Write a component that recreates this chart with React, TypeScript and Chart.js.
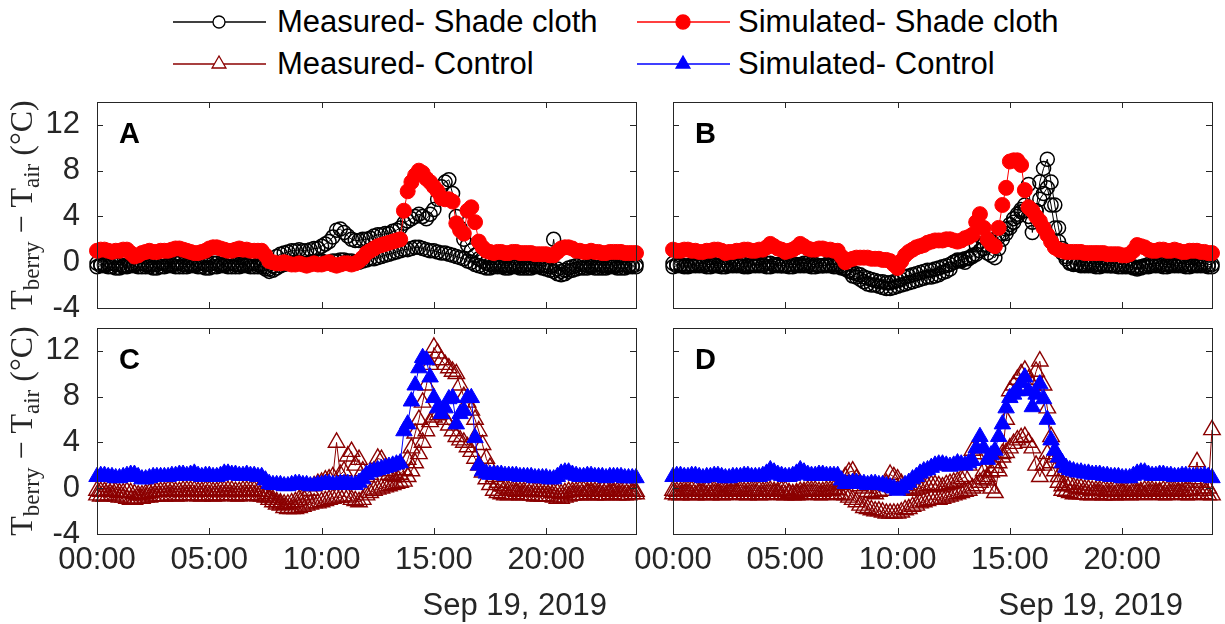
import React, { useEffect, useRef } from "react";
import { Chart, registerables } from "chart.js";

Chart.register(...registerables);

// ---------------- DATA (10-minute samples, 00:00 .. 24:00) ----------------
const TIMES = [
  "00:00","00:10","00:20","00:30","00:40","00:50",
  "01:00","01:10","01:20","01:30","01:40","01:50",
  "02:00","02:10","02:20","02:30","02:40","02:50",
  "03:00","03:10","03:20","03:30","03:40","03:50",
  "04:00","04:10","04:20","04:30","04:40","04:50",
  "05:00","05:10","05:20","05:30","05:40","05:50",
  "06:00","06:10","06:20","06:30","06:40","06:50",
  "07:00","07:10","07:20","07:30","07:40","07:50",
  "08:00","08:10","08:20","08:30","08:40","08:50",
  "09:00","09:10","09:20","09:30","09:40","09:50",
  "10:00","10:10","10:20","10:30","10:40","10:50",
  "11:00","11:10","11:20","11:30","11:40","11:50",
  "12:00","12:10","12:20","12:30","12:40","12:50",
  "13:00","13:10","13:20","13:30","13:40","13:50",
  "14:00","14:10","14:20","14:30","14:40","14:50",
  "15:00","15:10","15:20","15:30","15:40","15:50",
  "16:00","16:10","16:20","16:30","16:40","16:50",
  "17:00","17:10","17:20","17:30","17:40","17:50",
  "18:00","18:10","18:20","18:30","18:40","18:50",
  "19:00","19:10","19:20","19:30","19:40","19:50",
  "20:00","20:10","20:20","20:30","20:40","20:50",
  "21:00","21:10","21:20","21:30","21:40","21:50",
  "22:00","22:10","22:20","22:30","22:40","22:50",
  "23:00","23:10","23:20","23:30","23:40","23:50",
  "24:00",
];

const X_TICKS = [0, 5, 10, 15, 20];
const X_TICK_LABELS = ["00:00", "05:00", "10:00", "15:00", "20:00"];
const Y_TICKS = [-4, 0, 4, 8, 12];
const Y_TICK_LABELS = ["-4", "0", "4", "8", "12"];
const DATE_LABEL = "Sep 19, 2019";
const PANEL_LETTERS = ["A", "B", "C", "D"];

// Panel A
const simA = [
  1.0, 1.1, 1.1, 1.0, 0.9, 1.0,
  1.0, 1.1, 1.1, 0.8, 0.5, 0.6,
  0.8, 0.9, 1.0, 0.9, 0.9, 1.0,
  1.0, 1.0, 1.1, 1.2, 1.2, 1.1,
  1.0, 0.9, 0.8, 0.8, 0.9, 1.0,
  1.2, 1.3, 1.3, 1.2, 1.1, 1.0,
  1.0, 1.1, 1.2, 1.1, 1.1, 1.0,
  1.0, 1.0, 1.0, 0.6, 0.1, 0.0,
  -0.1, -0.1, 0.0, -0.1, -0.2, -0.2,
  -0.1, -0.2, -0.3, -0.2, -0.1, -0.2,
  -0.2, -0.1, 0.0, -0.2, -0.3, -0.2,
  -0.1, -0.1, -0.2, -0.1, 0.1, 0.4,
  0.8, 1.0, 1.2, 1.4, 1.5, 1.6,
  1.7, 1.8, 1.9, 2.0, 4.5, 6.2,
  7.0, 7.6, 8.0, 7.8, 7.3, 7.0,
  6.6, 6.2, 5.6, 5.5, 5.5, 5.3,
  3.4, 2.8, 2.5, 4.5, 4.8, 3.5,
  1.8, 1.3, 1.0, 0.9, 0.8, 0.9,
  0.9, 0.8, 0.8, 0.9, 0.9, 0.8,
  0.8, 0.8, 0.8, 0.7, 0.7, 0.7,
  0.7, 0.6, 0.6, 0.9, 1.2, 1.3,
  1.3, 1.2, 1.0, 1.0, 0.9, 0.9,
  1.0, 0.9, 0.9, 0.8, 0.8, 0.9,
  0.9, 0.9, 0.9, 0.8, 0.8, 0.8,
  0.8,
];
const measA1 = [
  -0.1, -0.2, -0.2, -0.1, -0.1, -0.2,
  -0.2, -0.3, -0.3, -0.2, -0.2, -0.1,
  -0.1, -0.2, -0.2, -0.2, -0.2, -0.1,
  -0.1, -0.2, -0.2, -0.1, -0.1, -0.2,
  -0.2, -0.2, -0.2, -0.1, -0.1, -0.2,
  -0.2, -0.1, -0.1, -0.2, -0.2, -0.1,
  -0.1, -0.2, -0.2, -0.2, -0.2, -0.1,
  -0.1, -0.2, -0.2, -0.4, -0.6, -0.3,
  0.5, 0.7, 0.8, 0.9, 1.0, 1.0,
  1.1, 1.0, 1.0, 1.1, 1.2, 1.2,
  1.4, 1.6, 1.8, 2.2, 2.8, 2.9,
  2.6, 2.3, 2.0, 1.9, 1.9, 2.0,
  2.0, 2.1, 2.3, 2.4, 2.4, 2.5,
  2.5, 2.7, 2.8, 3.0, 3.4, 3.6,
  3.8, 4.0, 4.2, 4.0, 3.8, 4.2,
  4.6, 5.5, 6.6, 7.0, 7.2, 6.0,
  4.0, 3.0, 2.0, 1.5, 1.0, 0.6,
  0.3, 0.1, -0.1, -0.2, -0.2, -0.2,
  -0.2, -0.3, -0.3, -0.2, -0.2, -0.3,
  -0.3, -0.2, -0.2, -0.3, -0.3, -0.3,
  -0.3, -0.4, 2.0, -0.6, -0.8, -0.7,
  -0.5, -0.4, -0.3, -0.2, -0.2, -0.3,
  -0.3, -0.2, -0.2, -0.3, -0.3, -0.2,
  -0.3, -0.3, -0.2, -0.2, -0.3, -0.3,
  -0.2,
];
const measA2 = [
  -0.4, -0.3, -0.3, -0.4, -0.4, -0.5,
  -0.5, -0.4, -0.4, -0.3, -0.3, -0.4,
  -0.4, -0.4, -0.4, -0.5, -0.5, -0.4,
  -0.4, -0.3, -0.3, -0.4, -0.4, -0.4,
  -0.4, -0.3, -0.3, -0.4, -0.4, -0.5,
  -0.5, -0.4, -0.4, -0.3, -0.3, -0.4,
  -0.4, -0.4, -0.4, -0.3, -0.3, -0.4,
  -0.4, -0.4, -0.4, -0.6, -0.8, -0.7,
  -0.5, -0.3, -0.2, -0.1, -0.1, 0.0,
  0.0, -0.1, -0.1, 0.0, 0.0, 0.1,
  0.1, 0.0, 0.0, 0.1, 0.1, 0.2,
  0.2, 0.1, 0.1, 0.0, 0.0, 0.1,
  0.2, 0.3, 0.3, 0.4, 0.5, 0.6,
  0.7, 0.8, 0.9, 1.0, 1.1, 1.1,
  1.2, 1.3, 1.3, 1.2, 1.1, 1.0,
  1.0, 0.9, 0.8, 0.8, 0.7, 0.6,
  0.5, 0.4, 0.3, 0.1, 0.0, -0.2,
  -0.3, -0.4, -0.5, -0.5, -0.4, -0.4,
  -0.4, -0.5, -0.5, -0.4, -0.4, -0.5,
  -0.5, -0.5, -0.5, -0.4, -0.4, -0.5,
  -0.6, -0.7, -0.8, -1.0, -1.1, -1.0,
  -0.8, -0.7, -0.6, -0.5, -0.5, -0.5,
  -0.4, -0.5, -0.5, -0.5, -0.5, -0.4,
  -0.4, -0.5, -0.5, -0.5, -0.4, -0.4,
  -0.4,
];

// Panel B
const simB = [
  1.1, 1.0, 1.0, 1.1, 1.1, 1.0,
  1.0, 0.9, 0.9, 1.0, 1.0, 1.1,
  1.1, 1.0, 0.8, 0.9, 0.9, 1.0,
  1.0, 1.1, 1.1, 1.0, 1.0, 1.1,
  1.1, 1.3, 1.6, 1.4, 1.2, 1.1,
  0.9, 1.0, 1.1, 1.3, 1.6, 1.4,
  1.2, 1.1, 1.1, 1.2, 1.2, 1.1,
  1.1, 1.0, 1.0, 0.5, 0.0, 0.2,
  0.3, 0.4, 0.4, 0.4, 0.4, 0.3,
  0.3, 0.3, 0.2, 0.2, 0.1, -0.2,
  -0.5, 0.1, 0.6, 0.9, 1.1, 1.3,
  1.4, 1.5, 1.7, 1.8, 1.9, 1.9,
  1.9, 2.0, 2.0, 1.9, 1.8, 1.9,
  2.1, 2.2, 2.4, 3.5, 4.2, 3.0,
  2.0, 1.6, 1.4, 3.0, 5.0, 6.5,
  8.8, 8.9, 8.9, 8.5, 6.3, 4.8,
  4.5, 4.0, 3.6, 3.0, 2.4, 1.8,
  1.3, 1.1, 1.0, 0.9, 0.9, 0.9,
  0.9, 0.9, 0.8, 0.8, 0.8, 0.8,
  0.8, 0.8, 0.7, 0.7, 0.7, 0.7,
  0.6, 0.6, 0.7, 1.0, 1.5, 1.4,
  1.3, 1.1, 1.0, 1.0, 1.1, 1.1,
  1.0, 1.0, 1.1, 1.0, 0.9, 0.9,
  1.0, 1.0, 1.0, 0.9, 0.9, 0.8,
  0.8,
];
const measB1 = [
  -0.1, -0.2, -0.2, -0.3, -0.3, -0.2,
  -0.2, -0.1, -0.1, -0.2, -0.2, -0.2,
  -0.3, -0.2, -0.2, -0.2, -0.2, -0.1,
  -0.1, -0.2, -0.3, -0.2, -0.2, -0.2,
  -0.2, -0.1, -0.1, -0.2, -0.2, -0.3,
  -0.3, -0.2, -0.2, -0.2, -0.2, -0.1,
  -0.1, -0.2, -0.2, -0.3, -0.3, -0.2,
  -0.2, -0.2, -0.2, -0.3, -0.5, -0.8,
  -1.2, -1.3, -1.5, -1.7, -1.9, -2.0,
  -2.0, -2.1, -2.2, -2.3, -2.3, -2.2,
  -2.1, -2.0, -1.9, -1.8, -1.7, -1.6,
  -1.5, -1.4, -1.3, -1.3, -1.2, -1.1,
  -0.9, -0.8, -0.6, 0.0, 0.2, 0.1,
  0.0, 0.3, 0.6, 1.5, 2.3, 1.5,
  0.8, 0.6, 0.4, 1.2, 2.0, 2.5,
  3.0, 3.5, 4.0, 4.6, 5.0, 6.8,
  2.6, 4.5, 7.0, 8.2, 9.0, 7.0,
  5.0, 3.0, 1.2, 0.5, 0.0, -0.1,
  -0.1, -0.2, -0.2, -0.1, -0.1, -0.2,
  -0.2, -0.2, -0.2, -0.3, -0.3, -0.2,
  -0.2, -0.3, -0.3, -0.4, -0.5, -0.4,
  -0.3, -0.2, -0.2, -0.1, -0.1, -0.2,
  -0.2, -0.2, -0.2, -0.1, -0.1, -0.2,
  -0.2, -0.2, -0.2, -0.1, -0.1, -0.2,
  -0.2,
];
const measB2 = [
  -0.4, -0.3, -0.3, -0.4, -0.4, -0.3,
  -0.3, -0.3, -0.3, -0.4, -0.4, -0.3,
  -0.3, -0.4, -0.4, -0.3, -0.3, -0.3,
  -0.3, -0.4, -0.4, -0.3, -0.3, -0.3,
  -0.3, -0.4, -0.4, -0.3, -0.3, -0.3,
  -0.3, -0.4, -0.4, -0.3, -0.3, -0.3,
  -0.3, -0.4, -0.4, -0.3, -0.3, -0.3,
  -0.3, -0.4, -0.4, -0.5, -0.6, -0.7,
  -0.9, -1.0, -1.1, -1.3, -1.4, -1.5,
  -1.6, -1.7, -1.7, -1.8, -1.8, -1.7,
  -1.6, -1.5, -1.3, -1.2, -1.1, -1.0,
  -0.9, -0.8, -0.7, -0.7, -0.6, -0.5,
  -0.4, -0.3, -0.2, 0.0, 0.1, 0.2,
  0.3, 0.4, 0.5, 0.7, 1.0, 1.2,
  1.5, 1.8, 2.0, 2.2, 2.5, 2.9,
  3.3, 3.8, 4.2, 4.4, 4.5, 4.0,
  3.5, 4.5, 5.5, 6.0, 6.5, 5.0,
  3.0, 1.8, 0.8, 0.3, -0.1, -0.2,
  -0.2, -0.3, -0.3, -0.3, -0.3, -0.4,
  -0.4, -0.3, -0.3, -0.3, -0.3, -0.4,
  -0.4, -0.4, -0.4, -0.5, -0.6, -0.5,
  -0.4, -0.4, -0.3, -0.3, -0.3, -0.4,
  -0.4, -0.3, -0.3, -0.3, -0.3, -0.4,
  -0.4, -0.3, -0.3, -0.3, -0.3, -0.4,
  -0.4,
];

// Panel C
const simC = [
  1.0, 1.1, 1.1, 1.0, 1.0, 0.9,
  0.9, 1.0, 1.1, 1.2, 1.2, 1.0,
  0.8, 0.8, 0.9, 1.0, 1.0, 1.0,
  1.0, 1.0, 1.1, 1.1, 1.2, 1.2,
  1.1, 1.2, 1.3, 1.1, 1.0, 1.1,
  1.1, 1.0, 1.0, 1.1, 1.3, 1.3,
  1.2, 1.2, 1.1, 1.1, 1.2, 1.1,
  1.1, 1.0, 1.0, 0.7, 0.4, 0.3,
  0.3, 0.3, 0.2, 0.2, 0.3, 0.4,
  0.4, 0.3, 0.3, 0.2, 0.2, 0.3,
  0.3, 0.4, 0.4, 0.3, 0.3, 0.4,
  0.4, 0.4, 0.3, 0.3, 0.5, 0.8,
  1.2, 1.4, 1.5, 1.6, 1.7, 1.8,
  1.9, 2.0, 2.1, 2.2, 5.0, 5.6,
  7.6, 9.0, 10.5, 11.4, 11.2, 9.7,
  7.9, 7.0, 6.5, 7.0, 7.8, 7.9,
  5.6, 6.5, 6.8, 7.9, 7.9, 4.4,
  2.0, 1.5, 1.3, 1.2, 1.2, 1.2,
  1.2, 1.1, 1.1, 1.1, 1.1, 1.0,
  1.0, 1.0, 1.0, 0.9, 0.9, 0.9,
  0.9, 0.8, 0.8, 1.0, 1.3, 1.4,
  1.4, 1.2, 1.1, 1.0, 1.0, 1.1,
  1.1, 1.0, 1.0, 1.0, 0.9, 1.0,
  1.0, 1.0, 1.0, 0.9, 0.9, 0.9,
  0.9,
];
const measC1 = [
  -0.2, -0.3, -0.3, -0.2, -0.2, -0.3,
  -0.4, -0.4, -0.3, -0.4, -0.5, -0.6,
  -0.6, -0.5, -0.4, -0.3, -0.3, -0.3,
  -0.3, -0.2, -0.2, -0.3, -0.3, -0.2,
  -0.2, -0.2, -0.2, -0.3, -0.3, -0.2,
  -0.2, -0.3, -0.3, -0.2, -0.2, -0.2,
  -0.2, -0.3, -0.3, -0.2, -0.2, -0.2,
  -0.2, -0.3, -0.3, -0.5, -0.8, -1.0,
  -1.2, -1.3, -1.4, -1.4, -1.3, -1.2,
  -1.0, -0.8, -0.6, -0.2, 0.2, 0.4,
  0.5, 0.7, 0.8, 1.0, 4.0, 1.2,
  1.5, 2.8, 3.2, 2.0, 2.5, 1.5,
  1.0, 1.2, 1.5, 2.6, 2.5, 1.5,
  1.2, 1.1, 1.0, 1.2, 1.6, 2.5,
  3.5, 4.8, 6.0, 7.5, 9.0, 10.8,
  12.3, 11.8, 11.2, 10.8, 10.5, 10.2,
  10.0, 9.0, 8.0, 7.5, 6.8, 6.0,
  5.0, 3.8, 2.6, 1.8, 1.0, 0.5,
  0.2, 0.0, -0.2, -0.2, -0.3, -0.3,
  -0.3, -0.2, -0.2, -0.3, -0.3, -0.3,
  -0.3, -0.3, -0.4, -0.4, -0.5, -0.4,
  -0.3, -0.3, -0.3, -0.2, -0.2, -0.3,
  -0.3, -0.3, -0.3, -0.2, -0.2, -0.3,
  -0.3, -0.3, -0.3, -0.2, -0.2, -0.3,
  -0.3,
];
const measC2 = [
  -0.6, -0.7, -0.7, -0.6, -0.6, -0.7,
  -0.8, -0.8, -0.9, -1.0, -1.0, -0.9,
  -0.9, -0.8, -0.8, -0.7, -0.7, -0.7,
  -0.7, -0.6, -0.6, -0.7, -0.7, -0.6,
  -0.6, -0.6, -0.6, -0.7, -0.7, -0.6,
  -0.6, -0.7, -0.7, -0.6, -0.6, -0.6,
  -0.6, -0.7, -0.7, -0.6, -0.6, -0.6,
  -0.6, -0.7, -0.7, -0.8, -1.0, -1.2,
  -1.4, -1.5, -1.7, -1.8, -1.8, -1.8,
  -1.7, -1.6, -1.5, -1.4, -1.3, -1.3,
  -1.2, -1.1, -1.0, -0.9, -0.8, -0.8,
  -0.7, -0.8, -1.0, -1.1, -1.2, -1.0,
  -0.6, -0.4, -0.2, -0.1, 0.0, 0.1,
  0.2, 0.3, 0.4, 0.5, 0.6, 1.0,
  1.5, 2.2, 3.0, 4.0, 5.0, 5.8,
  6.2, 6.4, 6.5, 6.0, 5.5, 5.0,
  4.5, 4.2, 4.0, 3.6, 3.2, 2.6,
  2.0, 1.4, 0.8, 0.3, -0.2, -0.4,
  -0.5, -0.6, -0.6, -0.5, -0.5, -0.6,
  -0.6, -0.6, -0.6, -0.7, -0.7, -0.7,
  -0.7, -0.7, -0.8, -0.9, -0.9, -0.8,
  -0.7, -0.6, -0.6, -0.6, -0.6, -0.5,
  -0.5, -0.6, -0.6, -0.6, -0.6, -0.5,
  -0.5, -0.6, -0.6, -0.6, -0.6, -0.5,
  -0.5,
];

// Panel D
const simD = [
  1.0, 1.1, 1.1, 1.0, 1.0, 1.1,
  1.1, 1.0, 0.9, 1.0, 1.0, 1.1,
  1.1, 1.0, 0.9, 0.9, 1.0, 1.0,
  1.0, 1.1, 1.1, 1.0, 1.0, 1.0,
  1.1, 1.3, 1.6, 1.4, 1.2, 1.1,
  1.0, 1.0, 1.1, 1.3, 1.6, 1.4,
  1.2, 1.1, 1.1, 1.2, 1.2, 1.1,
  1.1, 1.1, 1.1, 0.7, 0.4, 0.4,
  0.5, 0.5, 0.4, 0.4, 0.3, 0.4,
  0.4, 0.3, 0.3, 0.2, 0.1, 0.0,
  -0.2, 0.0, 0.3, 0.5, 0.8, 1.0,
  1.3, 1.5, 1.6, 1.8, 2.0, 2.1,
  2.1, 2.0, 1.9, 2.0, 2.2, 2.1,
  2.0, 2.2, 2.4, 3.5, 4.5, 3.5,
  2.5, 2.9, 3.3, 4.5, 5.6, 7.0,
  7.9, 8.2, 8.5, 9.2, 9.7, 8.5,
  7.1, 8.2, 9.1, 7.8, 6.0, 4.2,
  3.3, 2.7, 2.2, 1.8, 1.6, 1.5,
  1.4, 1.4, 1.3, 1.3, 1.2, 1.2,
  1.2, 1.1, 1.1, 1.0, 1.0, 1.0,
  0.9, 0.9, 0.9, 1.1, 1.3, 1.4,
  1.4, 1.2, 1.1, 1.1, 1.2, 1.2,
  1.1, 1.1, 1.0, 1.0, 1.1, 1.1,
  1.0, 1.0, 1.0, 1.0, 1.1, 1.0,
  0.9,
];
const measD1 = [
  -0.2, -0.3, -0.3, -0.2, -0.2, -0.2,
  -0.2, -0.3, -0.3, -0.2, -0.2, -0.2,
  -0.3, -0.3, -0.3, -0.2, -0.2, -0.3,
  -0.2, -0.3, -0.3, -0.2, -0.2, -0.2,
  -0.3, -0.2, -0.2, -0.3, -0.3, -0.2,
  -0.2, -0.4, -0.6, -0.4, -0.3, -0.3,
  -0.2, -0.2, -0.2, -0.3, -0.3, -0.2,
  -0.2, -0.1, -0.1, 0.3, 1.0, 1.4,
  1.5, 0.8, 0.2, 0.0, -0.3, -0.4,
  -0.5, -0.3, -0.2, 0.4, 1.2, 1.0,
  0.8, 0.4, 0.0, -0.1, -0.2, -0.1,
  0.0, 0.1, 0.2, 0.3, 0.3, 0.2,
  0.1, 0.3, 0.4, 0.5, 0.6, 0.8,
  1.0, 2.0, 3.3, 3.0, 3.0, 1.5,
  0.7, 0.0, -0.4, 1.5, 3.0, 6.0,
  8.5, 9.0, 9.5, 10.0, 10.3, 9.5,
  9.0, 10.2, 11.1, 9.0, 7.0, 4.5,
  2.7, 1.0, 0.2, 0.3, 0.3, 0.1,
  0.0, 0.0, -0.1, -0.1, -0.2, -0.2,
  -0.2, -0.2, -0.3, -0.3, -0.2, -0.2,
  -0.3, -0.3, -0.2, -0.2, -0.3, -0.3,
  -0.2, -0.2, -0.2, -0.3, -0.3, -0.2,
  -0.2, -0.2, -0.2, -0.3, -0.3, -0.2,
  -0.2, 0.8, 2.3, 0.5, -0.2, 0.0,
  5.1,
];
const measD2 = [
  -0.5, -0.6, -0.6, -0.5, -0.5, -0.6,
  -0.6, -0.5, -0.5, -0.6, -0.6, -0.5,
  -0.5, -0.6, -0.6, -0.5, -0.5, -0.5,
  -0.5, -0.6, -0.6, -0.5, -0.5, -0.6,
  -0.6, -0.5, -0.5, -0.5, -0.5, -0.6,
  -0.6, -0.5, -0.5, -0.6, -0.6, -0.5,
  -0.5, -0.5, -0.5, -0.6, -0.6, -0.5,
  -0.5, -0.5, -0.5, -0.6, -0.6, -0.8,
  -1.0, -1.2, -1.5, -1.7, -1.8, -1.9,
  -2.0, -2.0, -2.1, -2.2, -2.2, -2.2,
  -2.2, -2.1, -1.9, -1.8, -1.6, -1.5,
  -1.3, -1.2, -1.1, -1.0, -1.0, -1.0,
  -0.9, -0.8, -0.7, -0.6, -0.5, -0.4,
  -0.3, -0.2, 0.0, 0.2, 0.5, 0.8,
  1.0, 1.4, 1.8, 2.2, 2.7, 3.1,
  3.5, 3.9, 4.2, 4.4, 4.5, 4.0,
  3.5, 2.0, 1.0, 2.0, 3.0, 2.2,
  1.5, 0.5, -0.2, -0.3, -0.4, -0.5,
  -0.5, -0.5, -0.5, -0.6, -0.6, -0.5,
  -0.5, -0.6, -0.6, -0.6, -0.6, -0.5,
  -0.5, -0.6, -0.6, -0.5, -0.5, -0.5,
  -0.6, -0.5, -0.5, -0.5, -0.5, -0.6,
  -0.6, -0.5, -0.5, -0.5, -0.5, -0.6,
  -0.6, -0.5, -0.5, -0.5, -0.5, -0.6,
  -0.6,
];

// ---------------- STYLE ----------------
const SANS = "'Liberation Sans', Arial, Helvetica, sans-serif";
const SERIF = "'Liberation Serif', 'DejaVu Serif', serif";
const AXIS_COLOR = "#262626";
const TICK_LEN = 6;

type Kind = "measShade" | "simShade" | "measCtrl" | "simCtrl";
const STYLES: Record<Kind, { color: string; pointStyle: string; radius: number; borderW: number; filled: boolean; label: string }> = {
  measShade: { color: "#000000", pointStyle: "circle", radius: 7, borderW: 1.5, filled: false, label: "Measured- Shade cloth" },
  simShade: { color: "#ff0000", pointStyle: "circle", radius: 7.5, borderW: 1, filled: true, label: "Simulated- Shade cloth" },
  measCtrl: { color: "#8b0000", pointStyle: "triangle", radius: 9.5, borderW: 1.4, filled: false, label: "Measured- Control" },
  simCtrl: { color: "#0000ff", pointStyle: "triangle", radius: 9.5, borderW: 1, filled: true, label: "Simulated- Control" },
};

const HOURS = TIMES.map((t) => {
  const [h, m] = t.split(":").map(Number);
  return h + m / 60;
});

interface SeriesDef { values: number[]; kind: Kind; order: number }
interface PanelDef {
  letter: string; left: number; top: number; width: number; height: number;
  isLeft: boolean; isBottom: boolean; series: SeriesDef[];
}

const PANELS: PanelDef[] = [
  { letter: PANEL_LETTERS[0], left: 0, top: 62, width: 650, height: 286, isLeft: true, isBottom: false,
    series: [ { values: simA, kind: "simShade", order: 0 }, { values: measA1, kind: "measShade", order: 1 }, { values: measA2, kind: "measShade", order: 2 } ] },
  { letter: PANEL_LETTERS[1], left: 620, top: 62, width: 605, height: 286, isLeft: false, isBottom: false,
    series: [ { values: simB, kind: "simShade", order: 0 }, { values: measB1, kind: "measShade", order: 1 }, { values: measB2, kind: "measShade", order: 2 } ] },
  { letter: PANEL_LETTERS[2], left: 0, top: 288, width: 650, height: 336, isLeft: true, isBottom: true,
    series: [ { values: simC, kind: "simCtrl", order: 0 }, { values: measC1, kind: "measCtrl", order: 1 }, { values: measC2, kind: "measCtrl", order: 2 } ] },
  { letter: PANEL_LETTERS[3], left: 620, top: 288, width: 605, height: 336, isLeft: false, isBottom: true,
    series: [ { values: simD, kind: "simCtrl", order: 0 }, { values: measD1, kind: "measCtrl", order: 1 }, { values: measD2, kind: "measCtrl", order: 2 } ] },
];

function drawYTitle(ctx: CanvasRenderingContext2D, x: number, cy: number) {
  const parts = [
    { t: "T", sub: false },
    { t: "berry", sub: true },
    { t: " \u2212 T", sub: false },
    { t: "air", sub: true },
    { t: " (\u00B0C)", sub: false },
  ];
  const main = `32px ${SERIF}`;
  const small = `23px ${SERIF}`;
  const widths = parts.map((p) => {
    ctx.font = p.sub ? small : main;
    return ctx.measureText(p.t).width;
  });
  const total = widths.reduce((a, b) => a + b, 0);
  ctx.save();
  ctx.translate(x, cy);
  ctx.rotate(-Math.PI / 2);
  ctx.fillStyle = AXIS_COLOR;
  ctx.textAlign = "left";
  ctx.textBaseline = "alphabetic";
  let cx = -total / 2;
  parts.forEach((p, i) => {
    ctx.font = p.sub ? small : main;
    ctx.fillText(p.t, cx, p.sub ? 7 : 0);
    cx += widths[i];
  });
  ctx.restore();
}

const decorPlugin = {
  id: "panelDecor",
  afterDatasetsDraw(chart: any, _args: any, opts: any) {
    const { ctx, chartArea: a, scales } = chart;
    const xs = scales.x;
    const ys = scales.y;
    ctx.save();
    ctx.strokeStyle = AXIS_COLOR;
    ctx.lineWidth = 1;
    ctx.beginPath();
    X_TICKS.forEach((v) => {
      const px = Math.round(xs.getPixelForValue(v)) + 0.5;
      ctx.moveTo(px, a.bottom);
      ctx.lineTo(px, a.bottom - TICK_LEN);
      ctx.moveTo(px, a.top);
      ctx.lineTo(px, a.top + TICK_LEN);
    });
    Y_TICKS.forEach((v) => {
      const py = Math.round(ys.getPixelForValue(v)) + 0.5;
      ctx.moveTo(a.left, py);
      ctx.lineTo(a.left + TICK_LEN, py);
      ctx.moveTo(a.right, py);
      ctx.lineTo(a.right - TICK_LEN, py);
    });
    ctx.stroke();
    ctx.strokeRect(Math.round(a.left) + 0.5, Math.round(a.top) + 0.5, Math.round(a.right - a.left), Math.round(a.bottom - a.top));

    ctx.fillStyle = "#000";
    ctx.font = `bold 29px ${SANS}`;
    ctx.textAlign = "left";
    ctx.textBaseline = "alphabetic";
    ctx.fillText(opts.letter, a.left + 22, a.top + 41);

    if (opts.isBottom) {
      ctx.font = `31px ${SANS}`;
      ctx.fillStyle = AXIS_COLOR;
      ctx.textAlign = "right";
      ctx.fillText(DATE_LABEL, a.right - 29, a.bottom + 81);
    }
    if (opts.isLeft) {
      drawYTitle(ctx, 32, (a.top + a.bottom) / 2);
    }
    ctx.restore();
  },
};

function Panel({ def }: { def: PanelDef }) {
  const ref = useRef<HTMLCanvasElement | null>(null);
  useEffect(() => {
    if (!ref.current) return;
    const yAxisW = def.isLeft ? 97 : 53;
    const padRight = def.isLeft ? 14 : 13;
    const padTop = 40;
    const xAxisH = def.height - padTop - 206;
    const datasets = def.series.map((s) => {
      const st = STYLES[s.kind];
      return {
        label: st.label,
        data: HOURS.map((h, i) => ({ x: h, y: s.values[i] })),
        borderColor: st.color,
        borderWidth: 1,
        pointStyle: st.pointStyle,
        pointRadius: st.radius,
        pointBorderColor: st.color,
        pointBackgroundColor: st.filled ? st.color : "rgba(0,0,0,0)",
        pointBorderWidth: st.borderW,
        fill: false,
        tension: 0,
        clip: false,
        order: s.order,
      };
    });
    const chart = new Chart(ref.current, {
      type: "line",
      data: { datasets } as any,
      options: {
        animation: false,
        responsive: false,
        events: [],
        layout: { padding: { top: padTop, right: padRight, left: 0, bottom: 0 } },
        plugins: {
          legend: { display: false },
          tooltip: { enabled: false },
          panelDecor: { letter: def.letter, isLeft: def.isLeft, isBottom: def.isBottom },
        } as any,
        scales: {
          x: {
            type: "linear",
            min: 0,
            max: 24,
            afterBuildTicks: (s: any) => { s.ticks = X_TICKS.map((v) => ({ value: v })); },
            afterFit: (s: any) => { s.height = xAxisH; s.paddingLeft = 0; s.paddingRight = 0; },
            grid: { display: false, drawTicks: false },
            border: { display: false },
            ticks: {
              display: def.isBottom,
              autoSkip: false,
              maxRotation: 0,
              padding: 8,
              color: AXIS_COLOR,
              font: { family: SANS, size: 31 },
              callback: (v: any) => X_TICK_LABELS[X_TICKS.indexOf(Number(v))] ?? "",
            },
          },
          y: {
            type: "linear",
            min: -4,
            max: 14,
            afterBuildTicks: (s: any) => { s.ticks = Y_TICKS.map((v) => ({ value: v })); },
            afterFit: (s: any) => { s.width = yAxisW; s.paddingTop = 0; s.paddingBottom = 0; },
            grid: { display: false, drawTicks: false },
            border: { display: false },
            ticks: {
              display: def.isLeft,
              autoSkip: false,
              padding: 17,
              color: AXIS_COLOR,
              font: { family: SANS, size: 31 },
              callback: (v: any) => Y_TICK_LABELS[Y_TICKS.indexOf(Number(v))] ?? "",
            },
          },
        },
      } as any,
      plugins: [decorPlugin as any],
    });
    return () => chart.destroy();
  }, [def]);
  return (
    <canvas
      ref={ref}
      width={def.width}
      height={def.height}
      style={{ position: "absolute", left: def.left, top: def.top, width: def.width, height: def.height }}
    />
  );
}

const LEGEND_ITEMS: { kind: Kind; lineX: number; textX: number; cy: number }[] = [
  { kind: "measShade", lineX: 173, textX: 277, cy: 22 },
  { kind: "simShade", lineX: 637, textX: 738, cy: 22 },
  { kind: "measCtrl", lineX: 173, textX: 277, cy: 64 },
  { kind: "simCtrl", lineX: 637, textX: 738, cy: 64 },
];

function LegendMarker({ kind }: { kind: Kind }) {
  const st = STYLES[kind];
  const cx = 46;
  const cy = 15;
  if (st.pointStyle === "circle") {
    return <circle cx={cx} cy={cy} r={st.filled ? 7 : 6} fill={st.filled ? st.color : "white"} stroke={st.color} strokeWidth={1.3} />;
  }
  const R = 8;
  const pts = `${cx},${cy - R} ${cx - R * 0.866},${cy + R / 2} ${cx + R * 0.866},${cy + R / 2}`;
  return <polygon points={pts} fill={st.filled ? st.color : "white"} stroke={st.color} strokeWidth={1.3} />;
}

function Legend() {
  return (
    <>
      {LEGEND_ITEMS.map((it) => {
        const st = STYLES[it.kind];
        return (
          <React.Fragment key={it.kind}>
            <svg style={{ position: "absolute", left: it.lineX, top: it.cy - 15 }} width={94} height={30}>
              <line x1={0} y1={15} x2={93} y2={15} stroke={st.color} strokeWidth={1.5} />
              <LegendMarker kind={it.kind} />
            </svg>
            <div
              style={{
                position: "absolute",
                left: it.textX,
                top: it.cy - 18,
                font: `31px ${SANS}`,
                lineHeight: "36px",
                color: "#000",
                whiteSpace: "nowrap",
              }}
            >
              {st.label}
            </div>
          </React.Fragment>
        );
      })}
    </>
  );
}

export default function App() {
  return (
    <div style={{ position: "absolute", left: 0, top: 0, width: 1225, height: 624, background: "#fff", overflow: "hidden" }}>
      <Legend />
      {PANELS.map((p) => (
        <Panel key={p.letter} def={p} />
      ))}
    </div>
  );
}
